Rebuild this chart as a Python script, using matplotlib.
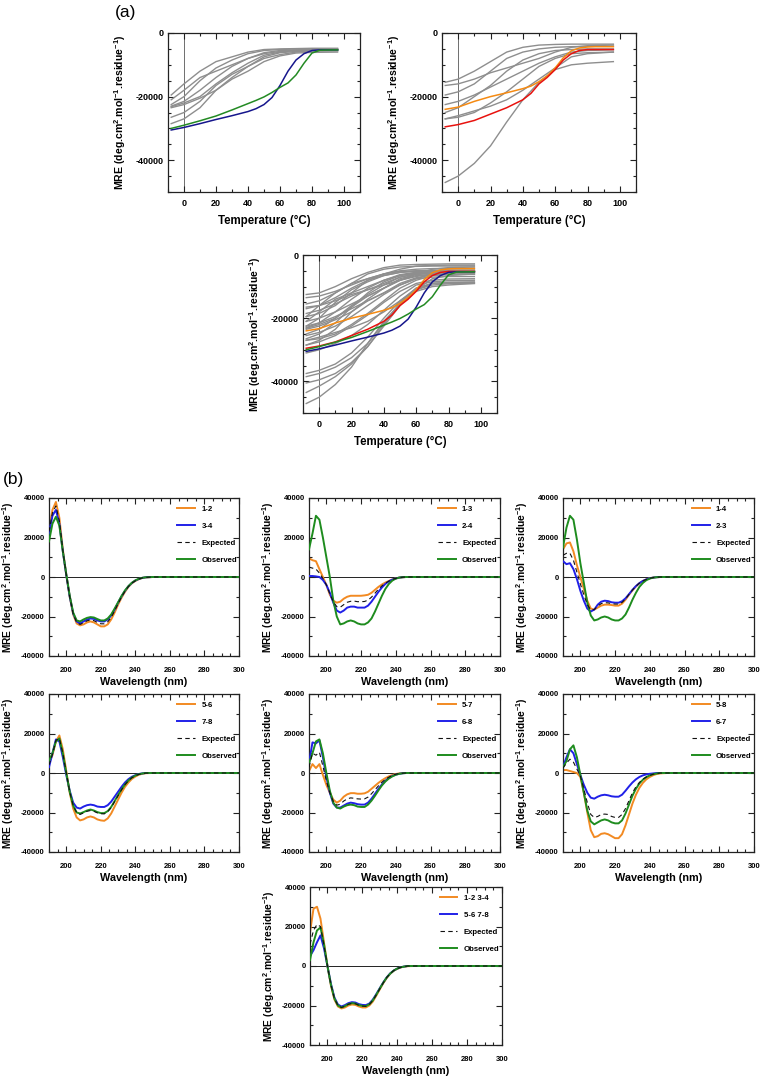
import matplotlib
matplotlib.use('Agg')
import matplotlib.pyplot as plt
from matplotlib.ticker import MultipleLocator

plt.rcParams['font.family'] = ['Liberation Sans', 'DejaVu Sans']
plt.rcParams['font.weight'] = 'bold'
plt.rcParams['mathtext.default'] = 'regular'
plt.rcParams['axes.unicode_minus'] = False

# ---------------- (a) thermal melts ----------------
temp_grey = [-8, 0, 10, 20, 30, 40, 50, 60, 70, 80, 96]
temp_col = [-8, 0, 10, 20, 30, 40, 45, 50, 55, 60, 65, 70, 75, 80, 85, 96]

grey_left = [
    [-19500, -16000, -12000, -9000, -7500, -6000, -5200, -5000, -4900, -4800, -4800],
    [-22500, -20000, -15000, -11000, -8500, -6500, -5500, -5200, -5000, -5000, -5000],
    [-23000, -21500, -18000, -14000, -10500, -8000, -6200, -5500, -5300, -5200, -5200],
    [-23200, -22000, -20000, -16000, -12500, -9500, -7000, -6000, -5500, -5400, -5300],
    [-23500, -22500, -20500, -18000, -14000, -10500, -7500, -6200, -5800, -5600, -5500],
    [-26500, -25000, -21500, -16500, -13000, -10500, -8000, -6800, -6000, -5700, -5600],
    [-28500, -27000, -23500, -18000, -14500, -12000, -9000, -7200, -6300, -6100, -6000],
    [-21000, -18000, -14000, -12000, -10000, -8000, -6500, -5800, -5400, -5300, -5200],
]
grey_right = [
    [-15500, -14500, -12000, -9000, -6000, -4500, -3800, -3600, -3500, -3500, -3500],
    [-16500, -16000, -14500, -12500, -11000, -9500, -8000, -6000, -4500, -4000, -3800],
    [-19500, -18500, -16000, -12000, -8000, -6000, -5000, -4500, -4300, -4200, -4200],
    [-22500, -21500, -19500, -17000, -14500, -12000, -9500, -7500, -6000, -5500, -5300],
    [-25000, -23500, -20000, -16500, -12000, -8500, -6500, -5500, -5200, -5000, -5000],
    [-27000, -26000, -24500, -23000, -21000, -18000, -14500, -11000, -7500, -6500, -6000],
    [-27000, -26500, -25000, -22000, -18500, -14500, -10500, -8000, -6500, -6200, -6000],
    [-47000, -45000, -41000, -35500, -28000, -21000, -15500, -11500, -10000, -9500, -9000],
]
grey_extra = [
    [-12500, -12000, -10000, -7500, -5500, -4000, -3200, -3000, -2900, -2800, -2800],
    [-13500, -13000, -11500, -9500, -7500, -6000, -4500, -3500, -3300, -3200, -3200],
    [-17000, -16000, -13500, -10500, -8000, -6500, -5500, -5000, -4900, -4800, -4800],
    [-18500, -17500, -15500, -13000, -11000, -9000, -7000, -6000, -5700, -5500, -5500],
    [-21000, -20000, -18000, -15500, -13000, -10500, -8000, -6500, -6200, -6000, -6000],
    [-25500, -24500, -22500, -19500, -16000, -12500, -9500, -7500, -7000, -6800, -6800],
    [-28500, -27500, -25500, -22500, -19000, -15000, -11500, -9000, -8000, -7600, -7500],
    [-31000, -30000, -28000, -25500, -22000, -17500, -13000, -9500, -8500, -8100, -8000],
    [-37500, -36500, -34500, -31000, -26000, -20000, -14500, -10500, -9000, -8600, -8500],
    [-38500, -37500, -35500, -32500, -28000, -21500, -15500, -11000, -9000, -8900, -8800],
    [-40500, -39500, -37500, -34000, -29000, -22000, -15000, -10500, -9000, -8800, -8700],
    [-43500, -41500, -38500, -34500, -29000, -22500, -16000, -11000, -9500, -9100, -9000],
]

melt_blue = [-30500, -29700, -28500, -27200, -26000, -24700, -23800, -22500, -20300, -16500, -12000, -8500, -6500, -5500, -5300, -5300]
melt_green = [-30000, -29000, -27600, -26100, -24200, -22200, -21200, -20100, -18700, -17100, -15700, -13200, -9500, -6300, -5400, -5300]
melt_red = [-29500, -28800, -27500, -25500, -23500, -21000, -19000, -16000, -14000, -11500, -8500, -6500, -5500, -5200, -5200, -5200]
melt_orange = [-24000, -23300, -21500, -20000, -18800, -17500, -16700, -15300, -13500, -11000, -7800, -5600, -4700, -4400, -4300, -4300]

# ---------------- (b) CD spectra ----------------
wl = [190, 192, 194, 196, 198, 200, 202, 204, 206, 208, 210, 212, 214, 216, 218, 220,
      222, 224, 226, 228, 230, 232, 234, 236, 238, 240, 242, 244, 246, 250, 300]

o12 = [24000, 34000, 38000, 30000, 14000, 1000, -10000, -19000, -23500, -24500, -24000, -23000, -22500, -23000, -24000, -25000, -25000, -24000, -21500, -18000, -14000, -10500, -7500, -5000, -3200, -2000, -1100, -500, -200, 0, 0]
b34 = [22000, 31000, 34000, 27000, 13000, 1000, -10000, -18500, -22500, -23500, -22500, -21500, -21000, -21200, -22000, -22500, -22500, -21500, -19500, -16500, -13000, -9800, -7000, -4700, -3000, -1800, -1000, -450, -150, 0, 0]
e1 = [23000, 32500, 36000, 28500, 13500, 1000, -10000, -18700, -23000, -24000, -23200, -22200, -21700, -22100, -23000, -23700, -23700, -22700, -20500, -17200, -13500, -10100, -7200, -4800, -3100, -1900, -1000, -470, -170, 0, 0]
obs1 = [18000, 27000, 30500, 26000, 13000, 1500, -9500, -18000, -22000, -22500, -21500, -20700, -20300, -20500, -21300, -22000, -22000, -21000, -19000, -16000, -12800, -9600, -6800, -4600, -2900, -1700, -900, -400, -150, 0, 0]

o13 = [9500, 8500, 8000, 4000, 0, -4000, -9000, -12000, -13000, -12500, -11000, -10000, -9500, -9500, -9500, -9500, -9300, -9000, -8000, -6500, -5000, -3800, -2800, -2000, -1200, -700, -300, -100, 0, 0, 0]
b24 = [500, 500, 300, 0, -1500, -4000, -8000, -13000, -17000, -18000, -17000, -15500, -15000, -15000, -15500, -15500, -15500, -14500, -12500, -10000, -7500, -5300, -3500, -2200, -1300, -700, -300, -100, 0, 0, 0]
e2 = [5000, 4500, 4000, 2000, -700, -4000, -8500, -12500, -15000, -15300, -14000, -12800, -12300, -12200, -12500, -12500, -12400, -11700, -10200, -8200, -6200, -4500, -3100, -2100, -1200, -700, -300, -100, 0, 0, 0]
obs2 = [14000, 22000, 31000, 29000, 20000, 10000, 0, -12000, -20000, -24000, -23500, -22500, -22000, -22500, -23500, -24000, -24000, -23000, -21000, -17500, -13500, -9500, -6000, -3500, -1800, -800, -300, -100, 0, 0, 0]

o14 = [14000, 17000, 17500, 13000, 6000, 0, -6000, -12000, -16000, -16500, -15500, -14500, -14000, -14000, -14200, -14500, -14500, -13500, -11500, -9000, -6800, -4800, -3200, -2000, -1200, -600, -300, -100, 0, 0, 0]
b23 = [8000, 6500, 7000, 4000, -1000, -7000, -12000, -16000, -17500, -16500, -14000, -12500, -12000, -12200, -12800, -13000, -13000, -12300, -10800, -8700, -6500, -4600, -3100, -2000, -1200, -600, -300, -100, 0, 0, 0]
e3 = [11000, 12000, 12000, 8500, 2500, -3500, -9000, -14000, -16700, -16500, -14700, -13500, -13000, -13100, -13500, -13700, -13700, -12900, -11100, -8800, -6600, -4700, -3100, -2000, -1200, -600, -300, -100, 0, 0, 0]
obs3 = [15000, 25000, 31000, 29000, 19000, 7000, -3000, -13000, -19500, -22000, -21500, -20500, -20000, -20500, -21500, -22000, -22000, -21000, -19000, -15500, -11500, -8000, -5000, -3000, -1600, -800, -300, -100, 0, 0, 0]

o56 = [5000, 9000, 16000, 19000, 12000, 1000, -10000, -18000, -22500, -24000, -23500, -22500, -22000, -22500, -23500, -24000, -24200, -23000, -20500, -17000, -13500, -10000, -7000, -4800, -3000, -1800, -900, -400, -100, 0, 0]
b78 = [3000, 10000, 17000, 16000, 8000, -1000, -9000, -15000, -17500, -18000, -17000, -16300, -16000, -16300, -17000, -17200, -17200, -16300, -14500, -12000, -9500, -7000, -4800, -3100, -1900, -1100, -500, -200, 0, 0, 0]
e4 = [4000, 9500, 16500, 17500, 10000, 0, -9500, -16500, -20000, -21000, -20200, -19400, -19000, -19400, -20200, -20600, -20700, -19600, -17500, -14500, -11500, -8500, -5900, -3900, -2400, -1400, -700, -300, -50, 0, 0]
obs4 = [6000, 10000, 16000, 17500, 10000, 0, -9500, -16500, -20000, -20500, -19800, -19000, -18500, -19000, -19800, -20300, -20300, -19300, -17200, -14200, -11200, -8300, -5800, -3800, -2300, -1300, -600, -250, 0, 0, 0]

o57 = [1000, 4500, 2500, 4500, -1000, -6000, -10000, -13500, -15000, -14000, -12000, -10800, -10200, -10200, -10500, -10500, -10300, -9500, -8000, -6500, -5000, -3700, -2600, -1700, -1000, -500, -200, 0, 0, 0, 0]
b68 = [5000, 15500, 15000, 16500, 8000, -2000, -10000, -15500, -17500, -17500, -16500, -15500, -15000, -15300, -15800, -16000, -16000, -15000, -13000, -10500, -8000, -5800, -3900, -2500, -1500, -800, -400, -100, 0, 0, 0]
e5 = [3000, 10000, 9000, 10500, 3500, -4000, -10000, -14500, -16300, -15800, -14200, -13100, -12600, -12800, -13100, -13200, -13100, -12200, -10500, -8500, -6500, -4700, -3200, -2100, -1200, -600, -300, -100, 0, 0, 0]
obs5 = [5000, 10000, 16000, 17000, 10000, 0, -9000, -15000, -17500, -18000, -17000, -16300, -16000, -16300, -17000, -17200, -17200, -16000, -14000, -11500, -8800, -6300, -4300, -2800, -1700, -900, -400, -150, 0, 0, 0]

o58 = [1500, 1500, 1000, 500, 0, -2000, -10000, -20000, -29000, -32500, -32000, -30800, -30500, -31000, -32000, -33000, -33000, -31000, -26500, -21000, -15500, -11000, -7500, -5000, -3200, -2000, -1100, -500, -200, 0, 0]
b67 = [3000, 8000, 12000, 10000, 4500, -1000, -6000, -10000, -12500, -13000, -12000, -11300, -11000, -11300, -11800, -12000, -12000, -11000, -9000, -6800, -4800, -3200, -2000, -1200, -700, -400, -200, 0, 0, 0, 0]
e6 = [2500, 5000, 7000, 5500, 2000, -1500, -8000, -15000, -21000, -22500, -22000, -21000, -20800, -21000, -22000, -22500, -22500, -21000, -18000, -14000, -10000, -7000, -4800, -3100, -2000, -1200, -600, -250, 0, 0, 0]
obs6 = [3000, 6000, 12000, 14000, 8000, -1000, -10000, -19000, -24500, -26000, -25000, -24000, -23500, -24000, -25000, -25500, -25500, -24000, -20500, -16000, -11500, -8000, -5300, -3400, -2100, -1200, -600, -250, 0, 0, 0]

o1234 = [17000, 29000, 30000, 24000, 12000, 0, -10000, -17000, -20500, -21500, -21000, -20000, -19500, -19700, -20500, -21000, -21000, -20000, -18000, -15000, -11800, -8700, -6000, -3900, -2400, -1400, -700, -300, -100, 0, 0]
b5678 = [5000, 8000, 12000, 15500, 9000, 0, -9000, -16000, -19500, -20500, -19800, -18800, -18300, -18500, -19300, -19700, -19800, -19000, -17000, -14200, -11200, -8300, -5700, -3700, -2300, -1300, -600, -250, 0, 0, 0]
e7 = [11000, 18000, 21000, 20000, 10500, 0, -9500, -16500, -20000, -21000, -20400, -19400, -18900, -19100, -19900, -20300, -20400, -19500, -17500, -14600, -11500, -8500, -5800, -3800, -2300, -1300, -650, -300, 0, 0, 0]
obs7 = [3000, 12000, 18000, 19500, 11000, 0, -9500, -16500, -20000, -21000, -20300, -19300, -18800, -19000, -19800, -20200, -20300, -19400, -17400, -14500, -11400, -8400, -5800, -3800, -2300, -1300, -650, -300, 0, 0, 0]

cd_labels = [('1-2', '3-4'), ('1-3', '2-4'), ('1-4', '2-3'),
             ('5-6', '7-8'), ('5-7', '6-8'), ('5-8', '6-7'),
             ('1-2 3-4', '5-6 7-8')]

W, H = 764, 1082
fig = plt.figure(figsize=(W / 100, H / 100), dpi=100)

def add_ax(l, t, r, b):
    return fig.add_axes([l / W, 1 - b / H, (r - l) / W, (b - t) / H])

def frame(ax, fs):
    ax.tick_params(which='both', direction='in', top=True, right=True,
                   labelsize=fs, width=0.8, color='#222222')
    ax.tick_params(which='major', length=4)
    ax.tick_params(which='minor', length=2.5)
    for s in ax.spines.values():
        s.set_linewidth(0.9)
        s.set_color('#222222')
    for lbl in ax.get_xticklabels() + ax.get_yticklabels():
        lbl.set_fontweight('bold')

ylab = r'MRE (deg.cm$^{2}$.mol$^{-1}$.residue$^{-1}$)'
GREY = '#8e8e8e'

# (a)
melt_axes = [add_ax(168, 33, 360, 192), add_ax(442, 33, 636, 192), add_ax(303, 255, 497, 413)]
melt_greys = [grey_left, grey_right, grey_left + grey_right + grey_extra]
melt_cols = [
    [(melt_blue, '#16168c'), (melt_green, '#238a23')],
    [(melt_orange, '#f58a12'), (melt_red, '#e8120e')],
    [(melt_orange, '#f58a12'), (melt_red, '#e8120e'), (melt_blue, '#16168c'), (melt_green, '#238a23')],
]
for ax, greys, cols in zip(melt_axes, melt_greys, melt_cols):
    ax.axvline(0, color='#6e6e6e', lw=0.7, zorder=1)
    for g in greys:
        ax.plot(temp_grey, g, color=GREY, lw=1.0, zorder=2)
    for vals, c in cols:
        ax.plot(temp_col, vals, color=c, lw=1.1, zorder=3)
    ax.set_xlim(-10, 110)
    ax.set_ylim(-50000, 0)
    ax.set_xticks([0, 20, 40, 60, 80, 100])
    ax.xaxis.set_minor_locator(MultipleLocator(10))
    ax.set_yticks([-40000, -20000, 0])
    ax.yaxis.set_minor_locator(MultipleLocator(5000))
    frame(ax, 6.5)
    ax.tick_params(axis='x', which='both', pad=5)
    ax.set_xlabel('Temperature (°C)', fontsize=8.3, fontweight='bold', labelpad=5)
    ax.set_ylabel(ylab, fontsize=7.6, fontweight='bold', labelpad=5)

fig.text(115 / W, 1 - 5 / H, '(a)', fontsize=12.5, fontweight='normal', va='top', ha='left')

# (b)
cd_axes = [add_ax(49, 498, 239, 656), add_ax(309, 498, 500, 656), add_ax(563, 498, 754, 656),
           add_ax(49, 694, 239, 852), add_ax(309, 694, 500, 852), add_ax(563, 694, 754, 852),
           add_ax(310, 887, 502, 1045)]
cd_series = [(o12, b34, e1, obs1), (o13, b24, e2, obs2), (o14, b23, e3, obs3),
             (o56, b78, e4, obs4), (o57, b68, e5, obs5), (o58, b67, e6, obs6),
             (o1234, b5678, e7, obs7)]
for ax, (sa, sb, se, so), (la, lb) in zip(cd_axes, cd_series, cd_labels):
    ax.axhline(0, color='#222222', lw=0.7, zorder=1)
    ax.plot(wl, sa, color='#f28a22', lw=1.4, label=la, zorder=2)
    ax.plot(wl, sb, color='#2020e8', lw=1.4, label=lb, zorder=3)
    ax.plot(wl, se, color='#111111', lw=0.8, dashes=(4, 3), label='Expected', zorder=5)
    ax.plot(wl, so, color='#1e8c1e', lw=1.4, label='Observed', zorder=4)
    ax.set_xlim(190, 300)
    ax.set_ylim(-40000, 40000)
    ax.set_xticks([200, 220, 240, 260, 280, 300])
    ax.xaxis.set_minor_locator(MultipleLocator(5))
    ax.set_yticks([-40000, -20000, 0, 20000, 40000])
    ax.yaxis.set_minor_locator(MultipleLocator(10000))
    frame(ax, 5.5)
    ax.tick_params(axis='x', which='both', pad=8)
    ax.tick_params(axis='y', which='both', pad=3)
    ax.set_xlabel('Wavelength (nm)', fontsize=7.8, fontweight='bold', labelpad=2)
    ax.set_ylabel(ylab, fontsize=7.4, fontweight='bold', labelpad=4)
    ax.legend(loc='upper left', bbox_to_anchor=(0.675, 0.955), frameon=False,
              prop={'size': 5.6, 'weight': 'bold'}, handlelength=2.3,
              handletextpad=0.8, labelspacing=1.25, borderpad=0, borderaxespad=0)

fig.text(3 / W, 1 - 472 / H, '(b)', fontsize=12.5, fontweight='normal', va='top', ha='left')

fig.savefig('out.png', dpi=100)
